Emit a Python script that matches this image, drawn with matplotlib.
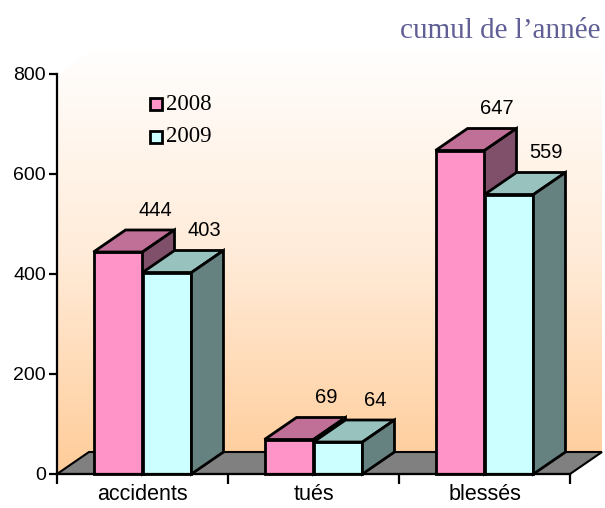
import numpy as np
import matplotlib.pyplot as plt
from matplotlib.patches import Polygon
from matplotlib.colors import LinearSegmentedColormap

# données
categories = ["accidents", "tués", "blessés"]
years = ["2008", "2009"]
vals_2008 = [444, 69, 647]
vals_2009 = [403, 64, 559]

# couleurs des faces (avant, dessus, côté)
faces = {
    "2008": ("#FF94C8", "#C07096", "#80506A"),
    "2009": ("#CCFFFF", "#98C2BE", "#668280"),
}

fig = plt.figure(figsize=(6.05, 5.08), dpi=100)
ax = fig.add_axes([57 / 605, 34 / 508, 513 / 605, 400 / 508])
ax.set_facecolor("none")

# profondeur 3D en unités des données
ddx = 32 / 171
ddy = 44
bw = 0.2865

# mur du fond en dégradé
wall = Polygon([(0, 0), (0, 800), (ddx, 800 + ddy), (3 + ddx, 800 + ddy),
                (3 + ddx, ddy), (3, 0)], closed=True, transform=ax.transData,
               facecolor="none", edgecolor="none")
ax.add_patch(wall)
cmap = LinearSegmentedColormap.from_list("wall", ["#FFFFFF", "#FFEBD8", "#FFCC99"])
grad = np.linspace(1, 0, 256).reshape(-1, 1)
im = ax.imshow(grad, cmap=cmap, extent=[0, 3 + ddx, 0, 800 + ddy + 20], aspect="auto",
               origin="lower", zorder=0)
im.set_clip_box(fig.bbox)
im.set_clip_path(wall)
ax.set_xlim(0, 3)
ax.set_ylim(0, 800)

# sol
floor = Polygon([(0, 0), (3, 0), (3 + ddx, ddy), (ddx, ddy)], closed=True,
                facecolor="#808080", edgecolor="black", lw=1.5, zorder=1, clip_on=False)
ax.add_patch(floor)


def bar3d(x0, h, cols):
    front, top, side = cols
    kw = dict(edgecolor="black", lw=2, zorder=3, clip_on=False, joinstyle="miter")
    ax.add_patch(Polygon([(x0, 0), (x0 + bw, 0), (x0 + bw, h), (x0, h)], facecolor=front, **kw))
    ax.add_patch(Polygon([(x0, h), (x0 + bw, h), (x0 + bw + ddx, h + ddy), (x0 + ddx, h + ddy)],
                         facecolor=top, **kw))
    ax.add_patch(Polygon([(x0 + bw, 0), (x0 + bw + ddx, ddy), (x0 + bw + ddx, h + ddy), (x0 + bw, h)],
                         facecolor=side, **kw))


for i in range(len(categories)):
    c = i + 0.5
    for j, (yr, v) in enumerate(zip(years, [vals_2008[i], vals_2009[i]])):
        x0 = c - bw + j * bw
        bar3d(x0, v, faces[yr])
        ax.text(x0 + bw / 2 + ddx + 0.03, v + ddy + 40, str(v), ha="center", va="center",
                fontsize=14.5, family="Liberation Sans", zorder=5)

# axes
for s in ["top", "right"]:
    ax.spines[s].set_visible(False)
for s in ["left", "bottom"]:
    ax.spines[s].set_linewidth(1.6)
    ax.spines[s].set_zorder(4)
ax.set_yticks([0, 200, 400, 600, 800])
ax.tick_params(axis="y", length=6, width=1.6, labelsize=14, pad=2)
ax.set_xticks([0, 1, 2, 3], labels=[])
ax.set_xticks([0.5, 1.5, 2.5], labels=categories, minor=True)
ax.tick_params(axis="x", which="major", length=7, width=1.6)
ax.tick_params(axis="x", which="minor", length=0, labelsize=15.5, pad=7)
for lab in ax.get_xticklabels(minor=True) + ax.get_yticklabels():
    lab.set_family("Liberation Sans")

# légende
for k, yr in enumerate(years):
    ypx = 508 - (104 + 33 * k)
    fig.patches.append(Polygon([(150 / 605, (ypx - 6) / 508), (162 / 605, (ypx - 6) / 508),
                                (162 / 605, (ypx + 6) / 508), (150 / 605, (ypx + 6) / 508)],
                               closed=True, transform=fig.transFigure, figure=fig,
                               facecolor=faces[yr][0], edgecolor="black", lw=2))
    fig.text(166 / 605, ypx / 508, yr, ha="left", va="center", fontsize=16.5,
             family="Liberation Serif")

fig.text(601 / 605, 1 - 31 / 508, "cumul de l’année", ha="right", va="center",
         fontsize=21, family="Liberation Serif", color="#5F5F96")

fig.savefig("out.png", dpi=100)
